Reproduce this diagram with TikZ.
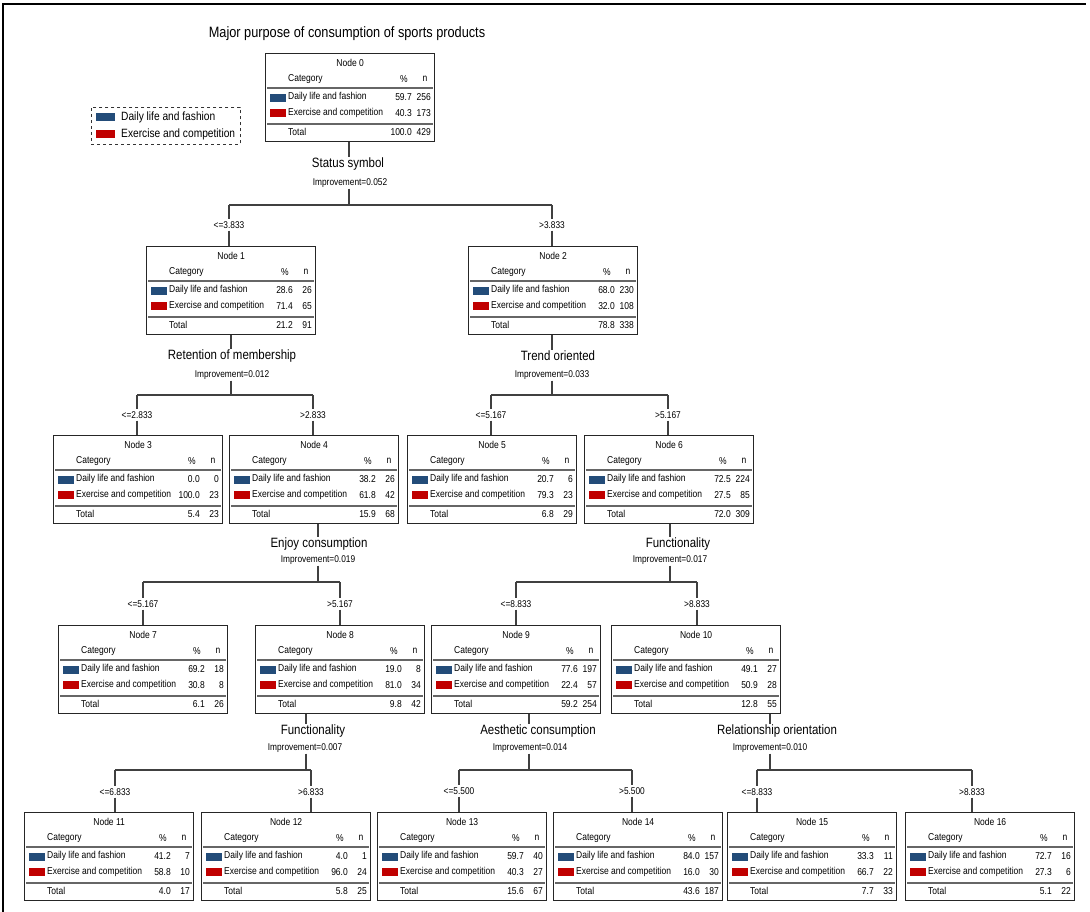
\documentclass[tikz,border=0pt]{standalone}
\usepackage{fontspec}
\setmainfont{Liberation Sans}[FakeStretch=0.85]
\definecolor{dailyblue}{HTML}{234C79}
\definecolor{exred}{HTML}{C00000}
\tikzset{
  box/.style={draw=black!85, line width=1.3pt, minimum width=169pt, minimum height=88pt, inner sep=0pt, anchor=north west, fill=white},
  sep/.style={draw=black!60, line width=2pt},
  txt/.style={inner sep=0pt, font=\fontsize{10}{12}\selectfont},
  swatch/.style={draw=none, minimum width=16pt, minimum height=8pt, inner sep=0pt, anchor=north west},
  splitlab/.style={inner sep=1pt, font=\fontsize{13.5}{15}\selectfont},
  impr/.style={inner sep=1pt, font=\fontsize{9.8}{11}\selectfont},
  branch/.style={inner sep=2pt, fill=white, font=\fontsize{9.8}{11}\selectfont},
  conn/.style={draw=black!75, line width=1.1pt},
  legtxt/.style={inner sep=0pt, anchor=west, font=\fontsize{12}{14}\selectfont},
}
% #1 name, #2 x0,y0, #3 node number, #4 p1, #5 n1, #6 p2, #7 n2, #8 pt, #9 nt
\newcommand{\TreeBox}[9]{%
  \node[box] (#1) at (#2) {};
  \node[txt] (#1-h) at ([yshift=-10pt]#1.north) {Node #3};
  \node[txt, anchor=west] (#1-c) at ([xshift=23pt,yshift=-26pt]#1.north west) {Category};
  \node[txt] (#1-pc) at ([xshift=139pt,yshift=-26pt]#1.north west) {\%};
  \node[txt] (#1-nc) at ([xshift=160pt,yshift=-26pt]#1.north west) {n};
  \draw[sep] ([xshift=2pt,yshift=-35pt]#1.north west) -- ([xshift=-2pt,yshift=-35pt]#1.north east);
  \node[swatch, fill=dailyblue] (#1-s1) at ([xshift=5pt,yshift=-41pt]#1.north west) {};
  \node[swatch, fill=exred] (#1-s2) at ([xshift=5pt,yshift=-56pt]#1.north west) {};
  \node[txt, anchor=west] (#1-r1) at ([xshift=23pt,yshift=-44pt]#1.north west) {Daily life and fashion};
  \node[txt, anchor=west] (#1-r2) at ([xshift=23pt,yshift=-60pt]#1.north west) {Exercise and competition};
  \node[txt, anchor=east] (#1-p1) at ([xshift=147pt,yshift=-44pt]#1.north west) {#4};
  \node[txt, anchor=east] (#1-n1) at ([xshift=166pt,yshift=-44pt]#1.north west) {#5};
  \node[txt, anchor=east] (#1-p2) at ([xshift=147pt,yshift=-60pt]#1.north west) {#6};
  \node[txt, anchor=east] (#1-n2) at ([xshift=166pt,yshift=-60pt]#1.north west) {#7};
  \draw[sep] ([xshift=2pt,yshift=-71pt]#1.north west) -- ([xshift=-2pt,yshift=-71pt]#1.north east);
  \node[txt, anchor=west] (#1-t) at ([xshift=23pt,yshift=-79pt]#1.north west) {Total};
  \node[txt, anchor=east] (#1-pt) at ([xshift=147pt,yshift=-79pt]#1.north west) {#8};
  \node[txt, anchor=east] (#1-nt) at ([xshift=166pt,yshift=-79pt]#1.north west) {#9};
}
% split label, improvement and drop line from the parent box
\newcommand{\SplitA}[8]{%
  \node[splitlab] (s#1) at (#4) {#5};
  \node[impr] (i#1) at (#6) {Improvement=#7};
  \coordinate (j#1) at (#3,#8);
  \draw[conn] (#2.south -| j#1) -- (s#1.north -| j#1);
  \draw[conn] (i#1.south -| j#1) -- (j#1);
}
% horizontal bar, branch labels and drops to the two children
\newcommand{\SplitB}[8]{%
  \coordinate (a#1) at (#2,#4);
  \coordinate (b#1) at (#3,#4);
  \node[branch] (bl#1) at (#2,#5) {#6};
  \node[branch] (br#1) at (#3,#5) {#7};
  \draw[conn] (a#1) -- (b#1);
  \draw[conn] (a#1) -- (bl#1) -- (#8-L.north -| a#1);
  \draw[conn] (b#1) -- (br#1) -- (#8-R.north -| b#1);
}
\begin{document}
\begin{tikzpicture}[x=1pt,y=-1pt]
\useasboundingbox (0,0) rectangle (1090,912);
\fill[white] (0,0) rectangle (1090,912);
% outer frame
\draw[line width=1.3pt] (3,912) -- (3,4) -- (1086,4);
% title
\node[inner sep=0pt, font=\fontsize{15}{17}\selectfont] (title) at (347,34) {Major purpose of consumption of sports products};
% legend
\node[draw=black!80, dashed, line width=0.8pt, minimum width=149pt, minimum height=37pt, inner sep=0pt, anchor=north west] (legend) at (91,107) {};
\node[swatch, fill=dailyblue, minimum width=19pt] (leg-s1) at (96,113) {};
\node[swatch, fill=exred, minimum width=19pt] (leg-s2) at (96,130) {};
\node[legtxt] (leg-t1) at (121,117) {Daily life and fashion};
\node[legtxt] (leg-t2) at (121,134) {Exercise and competition};
% boxes
\TreeBox{n0}{265,53}{0}{59.7}{256}{40.3}{173}{100.0}{429}
\TreeBox{n1}{146,246}{1}{28.6}{26}{71.4}{65}{21.2}{91}
\TreeBox{n2}{468,246}{2}{68.0}{230}{32.0}{108}{78.8}{338}
\TreeBox{n3}{53,435}{3}{0.0}{0}{100.0}{23}{5.4}{23}
\TreeBox{n4}{229,435}{4}{38.2}{26}{61.8}{42}{15.9}{68}
\TreeBox{n5}{407,435}{5}{20.7}{6}{79.3}{23}{6.8}{29}
\TreeBox{n6}{584,435}{6}{72.5}{224}{27.5}{85}{72.0}{309}
\TreeBox{n7}{58,625}{7}{69.2}{18}{30.8}{8}{6.1}{26}
\TreeBox{n8}{255,625}{8}{19.0}{8}{81.0}{34}{9.8}{42}
\TreeBox{n9}{431,625}{9}{77.6}{197}{22.4}{57}{59.2}{254}
\TreeBox{n10}{611,625}{10}{49.1}{27}{50.9}{28}{12.8}{55}
\TreeBox{n11}{24,812}{11}{41.2}{7}{58.8}{10}{4.0}{17}
\TreeBox{n12}{201,812}{12}{4.0}{1}{96.0}{24}{5.8}{25}
\TreeBox{n13}{377,812}{13}{59.7}{40}{40.3}{27}{15.6}{67}
\TreeBox{n14}{553,812}{14}{84.0}{157}{16.0}{30}{43.6}{187}
\TreeBox{n15}{727,812}{15}{33.3}{11}{66.7}{22}{7.7}{33}
\TreeBox{n16}{905,812}{16}{72.7}{16}{27.3}{6}{5.1}{22}
% splits
\SplitA{0}{n0}{349}{348,164}{Status symbol}{350,183}{0.052}{205}
\SplitA{1}{n1}{231}{232,356}{Retention of membership}{232,375}{0.012}{395}
\SplitA{2}{n2}{552}{558,356}{Trend oriented}{552,375}{0.033}{395}
\SplitA{4}{n4}{318}{319,544}{Enjoy consumption}{318,560}{0.019}{582}
\SplitA{6}{n6}{670}{678,544}{Functionality}{670,560}{0.017}{582}
\SplitA{8}{n8}{306}{313,731}{Functionality}{305,748}{0.007}{770}
\SplitA{9}{n9}{529}{538,731}{Aesthetic consumption}{530,748}{0.014}{770}
\SplitA{10}{n10}{770}{777,731}{Relationship orientation}{770,748}{0.010}{770}
% branches
\coordinate (x0-L) at (n1.north); \coordinate (x0-R) at (n2.north);
\SplitB{0}{229}{552}{205}{225}{<=3.833}{>3.833}{x0}
\coordinate (x1-L) at (n3.north); \coordinate (x1-R) at (n4.north);
\SplitB{1}{137}{313}{395}{415}{<=2.833}{>2.833}{x1}
\coordinate (x2-L) at (n5.north); \coordinate (x2-R) at (n6.north);
\SplitB{2}{491}{668}{395}{415}{<=5.167}{>5.167}{x2}
\coordinate (x4-L) at (n7.north); \coordinate (x4-R) at (n8.north);
\SplitB{4}{143}{340}{582}{604}{<=5.167}{>5.167}{x4}
\coordinate (x6-L) at (n9.north); \coordinate (x6-R) at (n10.north);
\SplitB{6}{516}{697}{582}{604}{<=8.833}{>8.833}{x6}
\coordinate (x8-L) at (n11.north); \coordinate (x8-R) at (n12.north);
\SplitB{8}{115}{311}{770}{792}{<=6.833}{>6.833}{x8}
\coordinate (x9-L) at (n13.north); \coordinate (x9-R) at (n14.north);
\SplitB{9}{459}{632}{770}{791}{<=5.500}{>5.500}{x9}
\coordinate (x10-L) at (n15.north); \coordinate (x10-R) at (n16.north);
\SplitB{10}{757}{972}{770}{792}{<=8.833}{>8.833}{x10}
\end{tikzpicture}
\end{document}
